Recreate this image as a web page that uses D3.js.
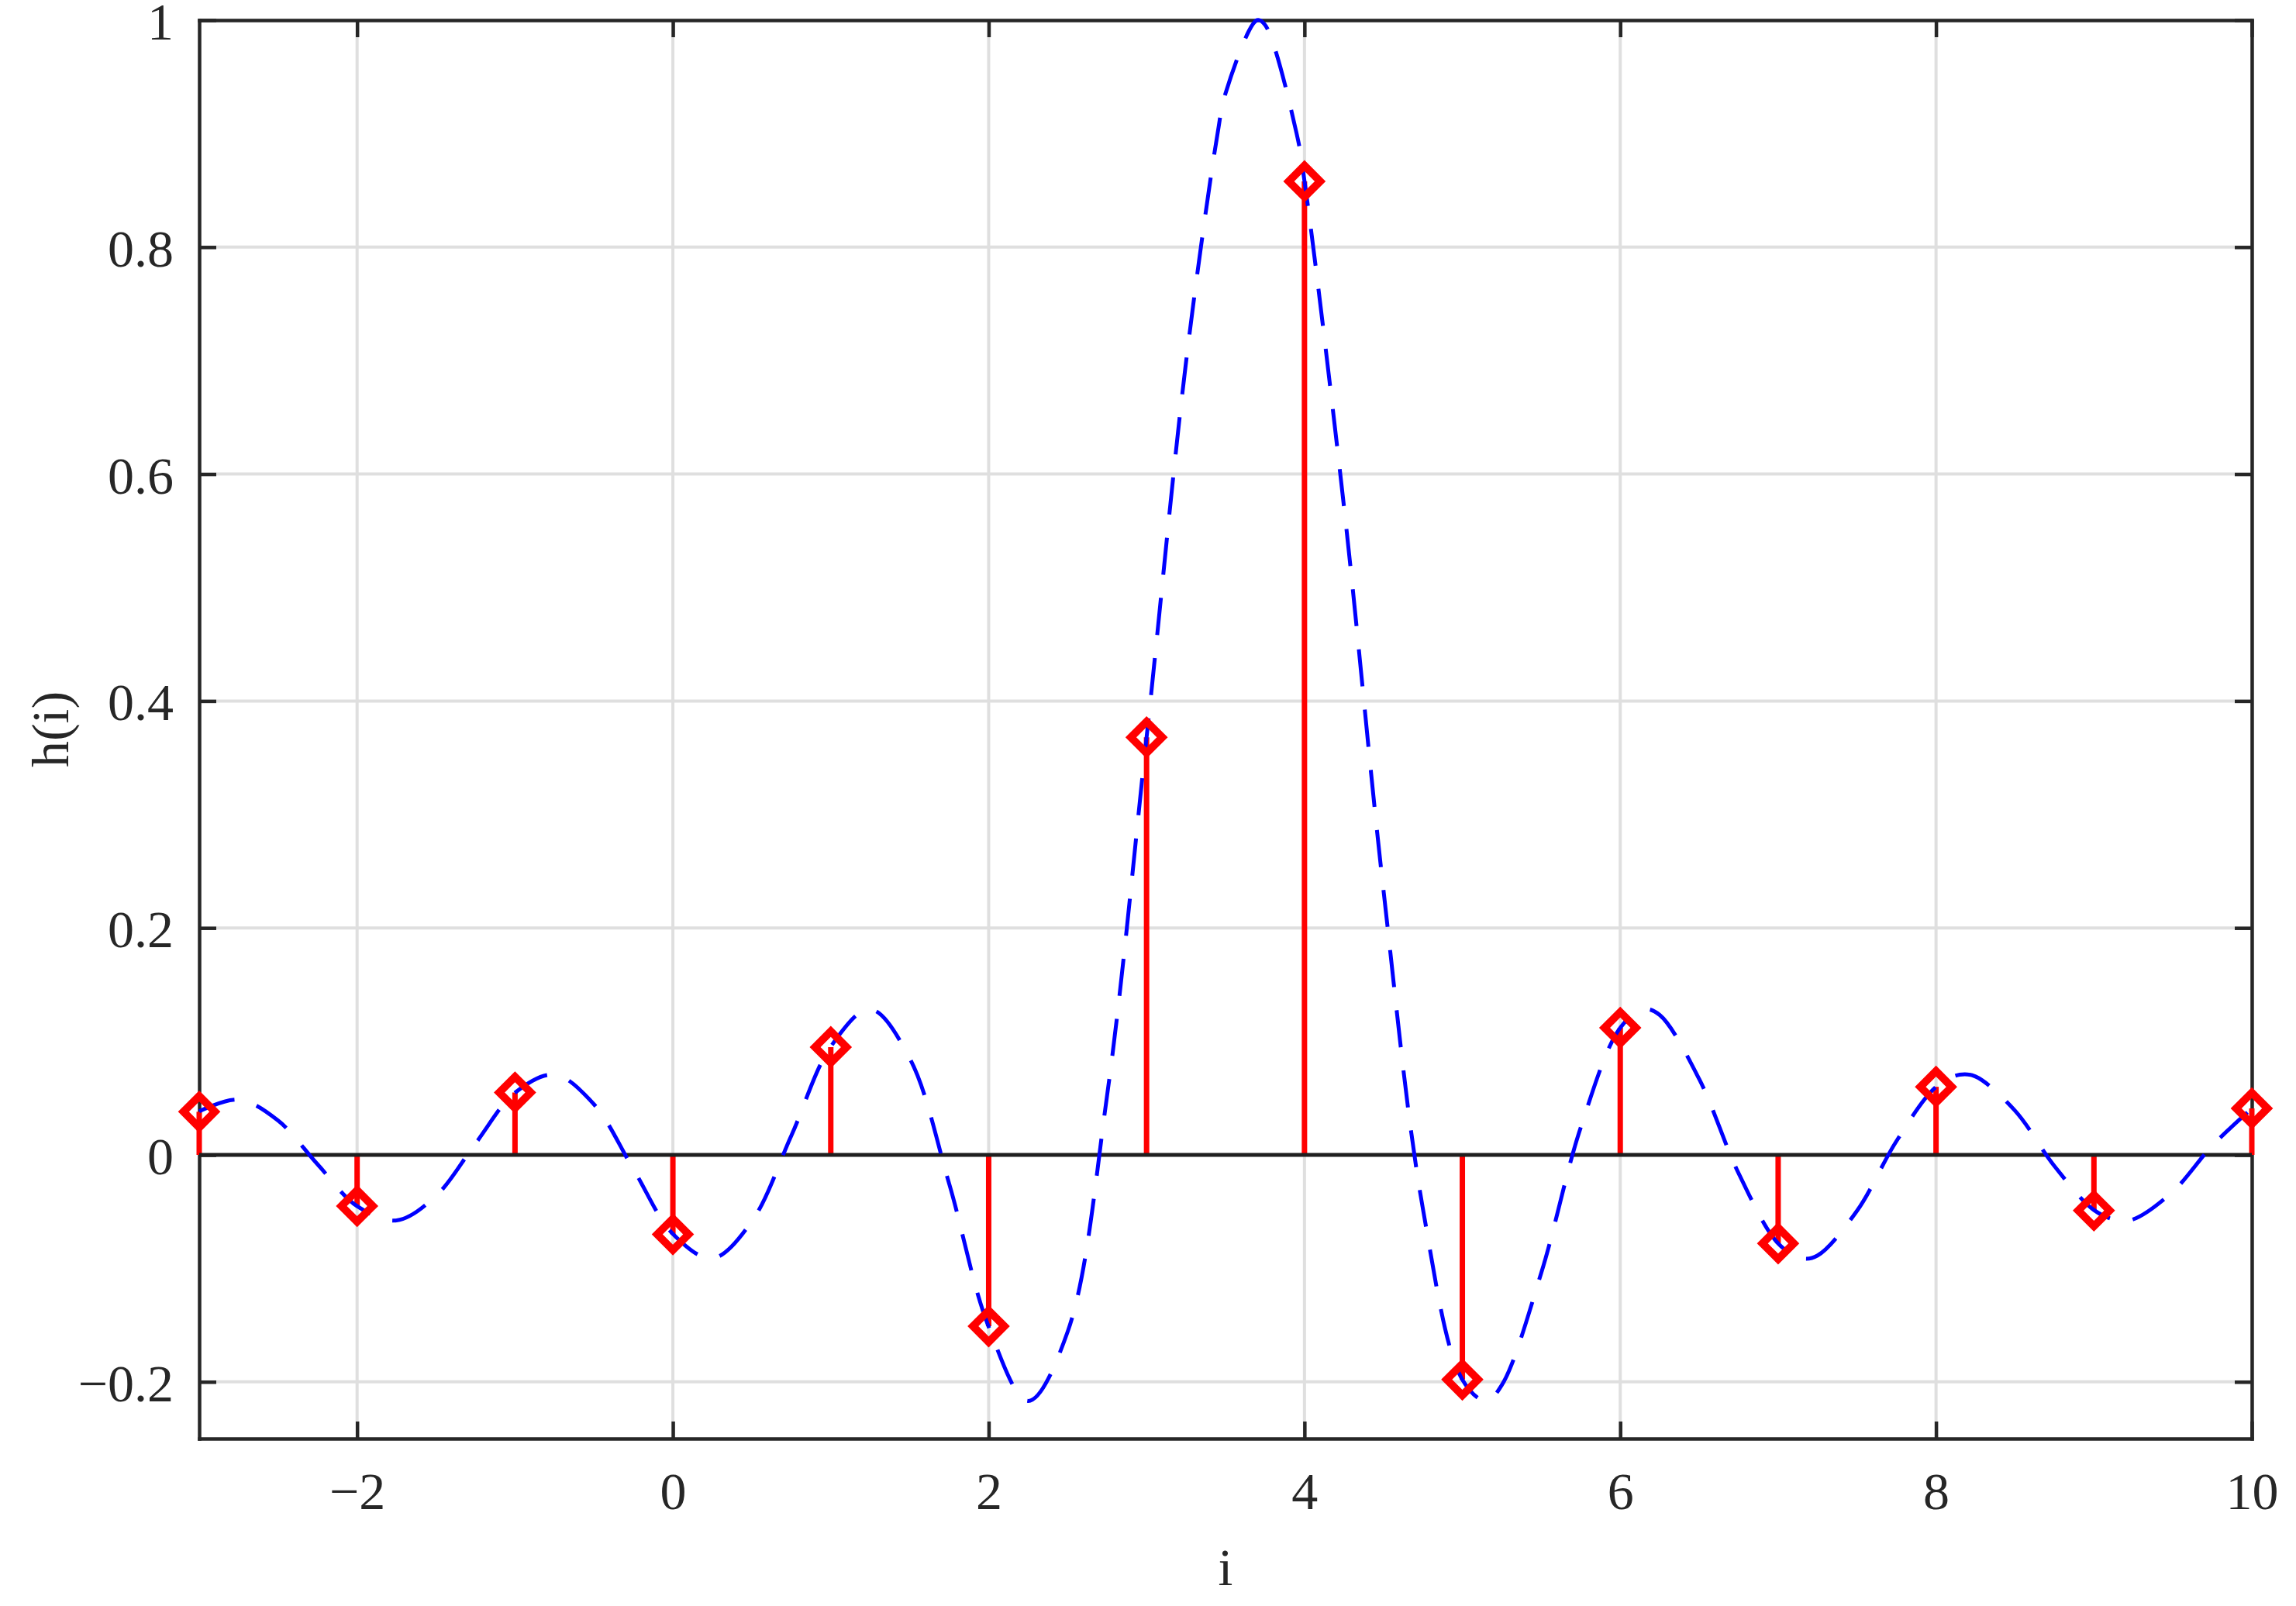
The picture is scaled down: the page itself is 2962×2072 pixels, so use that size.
<!DOCTYPE html>
<html>
<head>
<meta charset="utf-8">
<script src="https://cdn.jsdelivr.net/npm/d3@7"></script>
<style>
  html, body { margin: 0; padding: 0; background: #ffffff; }
  svg { display: block; }
</style>
</head>
<body>
<script>
// ---- data ----
const stemI = [-3, -2, -1, 0, 1, 2, 3, 4, 5, 6, 7, 8, 9, 10];
const stemH = [0.038, -0.045, 0.055, -0.070, 0.095, -0.151, 0.368, 0.858, -0.198, 0.112, -0.078, 0.060, -0.049, 0.041];

const curveX = [-3, -2.75, -2.5, -2.25, -2, -1.75, -1.5, -1.25, -1, -0.75, -0.5, -0.25,
  0, 0.25, 0.5, 0.75, 1, 1.25, 1.5, 1.75, 2, 2.25, 2.5, 2.75, 3, 3.25, 3.45, 3.5, 3.7, 3.75,
  3.95, 4, 4.25, 4.5, 4.75, 5, 5.15, 5.25, 5.5, 5.75, 6, 6.15, 6.25, 6.5, 6.75, 7, 7.15, 7.25,
  7.5, 7.75, 8, 8.15, 8.25, 8.5, 8.75, 9, 9.15, 9.25, 9.5, 9.75, 10];
const curveH = [0.0384, 0.0487, 0.0302, -0.0084, -0.0452, -0.0577, -0.0360, 0.0101, 0.0548, 0.0707, 0.0446, -0.0126,
  -0.0696, -0.0911, -0.0585, 0.0169, 0.0954, 0.1283, 0.0850, -0.0255, -0.1515, -0.2168, -0.1559, 0.0524, 0.3679, 0.6987, 0.9003, 0.9355, 1.0, 0.9959,
  0.9003, 0.8584, 0.5716, 0.2339, -0.0474, -0.1981, -0.2168, -0.2028, -0.1039, 0.0243, 0.1120, 0.1283, 0.1233, 0.0668, -0.0163, -0.0780, -0.0911, -0.0886,
  -0.0492, 0.0123, 0.0599, 0.0707, 0.0691, 0.0390, -0.0099, -0.0486, -0.0577, -0.0567, -0.0323, 0.0082, 0.0409];

const xTicks = [-2, 0, 2, 4, 6, 8, 10];
const yTicks = [-0.2, 0, 0.2, 0.4, 0.6, 0.8, 1];
const xDomain = [-3, 10];
const yDomain = [-0.25, 1];
const xLabel = "i";
const yLabel = "h(i)";

// ---- layout ----
const W = 2962, H = 2072;
const L = 257, R = 2905, T = 26, B = 1856;
const FONT = "'Liberation Serif', 'Times New Roman', serif";
const TXT = "#262626";
const AX = "#262626";

const svg = d3.select("body").append("svg")
  .attr("width", W).attr("height", H)
  .attr("viewBox", `0 0 ${W} ${H}`);
svg.append("rect").attr("width", W).attr("height", H).attr("fill", "#ffffff");

const x = d3.scaleLinear().domain(xDomain).range([L, R]);
const y = d3.scaleLinear().domain(yDomain).range([B, T]);

// grid
const grid = svg.append("g");
grid.selectAll("line.gx").data(xTicks).join("line")
  .attr("x1", d => x(d)).attr("x2", d => x(d))
  .attr("y1", T).attr("y2", B)
  .attr("stroke", "#dfdfdf").attr("stroke-width", 4);
grid.selectAll("line.gy").data(yTicks).join("line")
  .attr("x1", L).attr("x2", R)
  .attr("y1", d => y(d)).attr("y2", d => y(d))
  .attr("stroke", "#dfdfdf").attr("stroke-width", 4);

// axes (box with inward ticks)
const fmt = d3.format("~g");
function styleAxis(g) {
  g.selectAll(".domain").attr("stroke", AX).attr("stroke-width", 4.5);
  g.selectAll(".tick line").attr("stroke", AX).attr("stroke-width", 4.5);
  g.selectAll(".tick text").attr("fill", TXT)
    .style("font-family", FONT).style("font-size", "68px");
}
svg.append("g").attr("transform", `translate(0,${B})`)
  .call(d3.axisBottom(x).tickValues(xTicks).tickFormat(fmt).tickSize(-22).tickSizeOuter(0).tickPadding(43))
  .call(styleAxis);
svg.append("g").attr("transform", `translate(0,${T})`)
  .call(d3.axisTop(x).tickValues(xTicks).tickFormat(() => "").tickSize(-22).tickSizeOuter(0))
  .call(styleAxis);
svg.append("g").attr("transform", `translate(${L},0)`)
  .call(d3.axisLeft(y).tickValues(yTicks).tickFormat(fmt).tickSize(-22).tickSizeOuter(0).tickPadding(33))
  .call(styleAxis)
  .call(g => g.selectAll(".tick text").attr("dy", "0.36em"));
svg.append("g").attr("transform", `translate(${R},0)`)
  .call(d3.axisRight(y).tickValues(yTicks).tickFormat(() => "").tickSize(-22).tickSizeOuter(0))
  .call(styleAxis);
svg.selectAll(".domain").attr("stroke-linecap", "square");

// stems
const stems = stemI.map((d, i) => ({ i: d, h: stemH[i] }));
svg.append("g").selectAll("line").data(stems).join("line")
  .attr("x1", d => x(d.i)).attr("x2", d => x(d.i))
  .attr("y1", y(0)).attr("y2", d => y(d.h))
  .attr("stroke", "#ff0000").attr("stroke-width", 7);

// baseline
svg.append("line")
  .attr("x1", x(xDomain[0])).attr("x2", x(xDomain[1]))
  .attr("y1", y(0)).attr("y2", y(0))
  .attr("stroke", "#1f1f1f").attr("stroke-width", 5);

// dashed continuous curve
const pts = curveX.map((d, i) => [d, curveH[i]]);
const line = d3.line().x(d => x(d[0])).y(d => y(d[1])).curve(d3.curveCatmullRom.alpha(0.5));
svg.append("path").datum(pts)
  .attr("d", line)
  .attr("fill", "none")
  .attr("stroke", "#0000ff").attr("stroke-width", 5)
  .attr("stroke-dasharray", "48 30");

// diamond markers
const sq = d3.symbol().type(d3.symbolSquare).size(820);
svg.append("g").selectAll("path").data(stems).join("path")
  .attr("d", sq)
  .attr("transform", d => `translate(${x(d.i)},${y(d.h)}) rotate(45)`)
  .attr("fill", "none")
  .attr("stroke", "#ff0000").attr("stroke-width", 10);

// axis labels
svg.append("text")
  .attr("x", (L + R) / 2).attr("y", 2045)
  .attr("text-anchor", "middle")
  .attr("fill", TXT)
  .style("font-family", FONT).style("font-size", "68px")
  .text(xLabel);
svg.append("text")
  .attr("transform", `translate(88,${(T + B) / 2}) rotate(-90)`)
  .attr("text-anchor", "middle")
  .attr("fill", TXT)
  .style("font-family", FONT).style("font-size", "68px")
  .text(yLabel);
</script>
</body>
</html>
